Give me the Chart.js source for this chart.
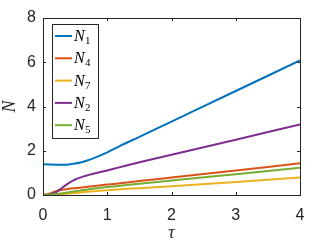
<!DOCTYPE html>
<html>
<head>
<meta charset="utf-8">
<script src="https://cdn.jsdelivr.net/npm/chart.js@4/dist/chart.umd.min.js"></script>
<style>
  html, body { margin: 0; padding: 0; background: #fff; }
  #wrap { width: 332px; height: 249px; }
</style>
</head>
<body>
<div id="wrap"><canvas id="plot"></canvas></div>
<script>
// valores
const tau = [0, 0.1, 0.2, 0.3, 0.4, 0.5, 0.6, 0.8, 1, 1.2, 1.5, 2, 3, 4]
const n1 = [1.39, 1.38, 1.37, 1.37, 1.38, 1.42, 1.48, 1.68, 1.93, 2.22, 2.63, 3.32, 4.70, 6.08]
const n4 = [0, 0.06, 0.17, 0.24, 0.28, 0.31, 0.34, 0.41, 0.47, 0.53, 0.63, 0.79, 1.11, 1.43]
const n7 = [0, 0.01, 0.02, 0.04, 0.07, 0.09, 0.12, 0.17, 0.22, 0.26, 0.31, 0.40, 0.59, 0.79]
const n2 = [0, 0.02, 0.12, 0.33, 0.54, 0.70, 0.81, 0.97, 1.11, 1.26, 1.48, 1.82, 2.50, 3.19]
const n5 = [0, 0.01, 0.04, 0.08, 0.12, 0.17, 0.21, 0.29, 0.36, 0.42, 0.51, 0.65, 0.94, 1.23]

const seriesNames = ["1", "4", "7", "2", "5"]
const seriesValues = [n1, n4, n7, n2, n5]
const seriesColors = ["#0072BD", "#D95319", "#EDB120", "#7E2F8E", "#77AC30"]

const xTicks = [0, 1, 2, 3, 4]
const yTicks = [0, 2, 4, 6, 8]

const axisColor = "#262626"

// caixa, marcas internas, rótulos dos eixos e legenda ao estilo MATLAB
const matlabStyle = {
  id: "matlabStyle",
  afterDraw(chart) {
    const { ctx, chartArea: a, scales } = chart
    ctx.save()
    ctx.strokeStyle = axisColor
    ctx.lineWidth = 1
    ctx.strokeRect(Math.round(a.left) + 0.5, Math.round(a.top) + 0.5,
      Math.round(a.right - a.left), Math.round(a.bottom - a.top))

    const tl = 3
    xTicks.forEach(v => {
      const x = Math.round(scales.x.getPixelForValue(v)) + 0.5
      ctx.beginPath()
      ctx.moveTo(x, a.bottom); ctx.lineTo(x, a.bottom - tl)
      ctx.moveTo(x, a.top); ctx.lineTo(x, a.top + tl)
      ctx.stroke()
    })
    yTicks.forEach(v => {
      const y = Math.round(scales.y.getPixelForValue(v)) + 0.5
      ctx.beginPath()
      ctx.moveTo(a.left, y); ctx.lineTo(a.left + tl, y)
      ctx.moveTo(a.right, y); ctx.lineTo(a.right - tl, y)
      ctx.stroke()
    })

    // rótulos dos eixos
    ctx.fillStyle = axisColor
    ctx.font = "italic 18px 'Liberation Serif'"
    ctx.textAlign = "center"
    ctx.textBaseline = "middle"
    ctx.fillText("\u03C4", (a.left + a.right) / 2, 233)
    ctx.save()
    ctx.translate(10, (a.top + a.bottom) / 2)
    ctx.rotate(-Math.PI / 2)
    ctx.fillText("N", 0, 0)
    ctx.restore()

    // legenda
    const lx = 52, ly = 24, lw = 46, lh = 114
    ctx.fillStyle = "#fff"
    ctx.fillRect(lx, ly, lw, lh)
    ctx.strokeStyle = "#262626"
    ctx.lineWidth = 1
    ctx.strokeRect(lx + 0.5, ly + 0.5, lw, lh)
    seriesNames.forEach((name, i) => {
      const y = 36 + i * 22.3
      ctx.strokeStyle = seriesColors[i]
      ctx.lineWidth = 2
      ctx.beginPath()
      ctx.moveTo(55, y); ctx.lineTo(72, y)
      ctx.stroke()
      ctx.fillStyle = "#000"
      ctx.textAlign = "left"
      ctx.textBaseline = "alphabetic"
      ctx.font = "italic 16px 'Liberation Serif'"
      ctx.fillText("N", 74, y + 5)
      ctx.font = "11px 'Liberation Serif'"
      ctx.fillText(name, 85, y + 8)
    })
    ctx.restore()
  }
}

new Chart(document.getElementById("plot"), {
  type: "line",
  data: {
    datasets: seriesValues.map((vals, i) => ({
      label: "N" + seriesNames[i],
      data: vals.map((v, k) => ({ x: tau[k], y: v })),
      borderColor: seriesColors[i],
      backgroundColor: seriesColors[i],
      borderWidth: 2,
      pointRadius: 0,
      cubicInterpolationMode: "monotone",
      order: seriesValues.length - i,
    })),
  },
  options: {
    responsive: true,
    maintainAspectRatio: false,
    animation: false,
    layout: { padding: { top: 18, right: 32, left: 0, bottom: 0 } },
    plugins: {
      legend: { display: false },
      tooltip: { enabled: false },
    },
    scales: {
      x: {
        type: "linear",
        min: 0,
        max: 4,
        grid: { display: false, drawTicks: false },
        border: { display: false },
        afterBuildTicks: s => { s.ticks = xTicks.map(v => ({ value: v })) },
        afterFit: s => { s.height = 54 },
        ticks: {
          color: axisColor,
          padding: 11,
          font: { family: "'Liberation Sans'", size: 16 },
        },
      },
      y: {
        min: 0,
        max: 8,
        grid: { display: false, drawTicks: false },
        border: { display: false },
        afterBuildTicks: s => { s.ticks = yTicks.map(v => ({ value: v })) },
        afterFit: s => { s.width = 43 },
        ticks: {
          color: axisColor,
          padding: 7,
          font: { family: "'Liberation Sans'", size: 16 },
        },
      },
    },
  },
  plugins: [matlabStyle],
})
</script>
</body>
</html>
